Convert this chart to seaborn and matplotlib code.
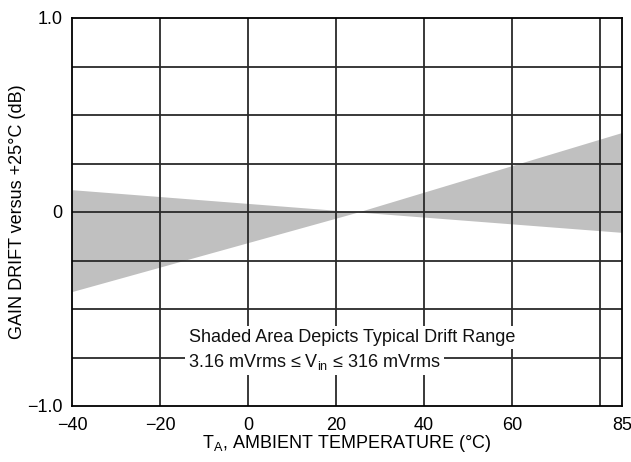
import matplotlib
matplotlib.use("Agg")
import matplotlib.pyplot as plt
import seaborn as sns
import pandas as pd

sns.set_theme(style="white")
plt.rcParams['font.family'] = ['Liberation Sans', 'DejaVu Sans']
plt.rcParams['mathtext.fontset'] = 'custom'
plt.rcParams['mathtext.rm'] = 'Liberation Sans'
plt.rcParams['mathtext.it'] = 'Liberation Sans'

# Data
temps = [-40, 25, 85]
upper_drift = [0.115, 0.0, 0.41]
lower_drift = [-0.41, 0.0, -0.105]
x_ticks = [-40, -20, 0, 20, 40, 60, 85]
x_ticklabels = ['\u221240', '\u221220', '0', '20', '40', '60', '85']
x_grid = [-20, 0, 20, 40, 60, 80]
y_ticks = [-1.0, 0.0, 1.0]
y_ticklabels = ['\u22121.0', '0', '1.0']
y_grid = [-0.75, -0.5, -0.25, 0.0, 0.25, 0.5, 0.75]
note_line1 = 'Shaded Area Depicts Typical Drift Range'
note_line2 = '3.16 mVrms \u2264 V$_{\\mathrm{in}}$ \u2264 316 mVrms'

df = pd.DataFrame({'temp': temps, 'upper': upper_drift, 'lower': lower_drift})

FS = 13
fig = plt.figure(figsize=(6.31, 4.62), dpi=100)
ax = fig.add_axes([72/631, 1-406/462, 550/631, 388/462])

sns.lineplot(data=df, x='temp', y='upper', ax=ax, color='#c0c0c0', linewidth=0)
sns.lineplot(data=df, x='temp', y='lower', ax=ax, color='#c0c0c0', linewidth=0)
ax.fill_between(df['temp'], df['lower'], df['upper'], color='#c0c0c0', linewidth=0, zorder=1)

for xv in x_grid:
    ax.axvline(xv, color='#2a2a2a', linewidth=1.3, zorder=3)
for yv in y_grid:
    ax.axhline(yv, color='#2a2a2a', linewidth=1.3, zorder=3)

ax.set_xlim(-40, 85)
ax.set_ylim(-1.0, 1.0)
ax.set_xticks(x_ticks)
ax.set_xticklabels(x_ticklabels, fontsize=FS)
ax.set_yticks(y_ticks)
ax.set_yticklabels(y_ticklabels, fontsize=FS)
ax.tick_params(axis='both', length=0, colors='black', labelcolor='black')
ax.tick_params(axis='x', pad=8)
ax.tick_params(axis='y', pad=7)
for s in ax.spines.values():
    s.set_color('black')
    s.set_linewidth(1.3)
    s.set_zorder(5)

ax.set_xlabel('T$_{\\mathrm{A}}$, AMBIENT TEMPERATURE (\u00b0C)', fontsize=FS, color='black')
ax.set_ylabel('GAIN DRIFT versus +25\u00b0C (dB)', fontsize=FS, color='black')
ax.xaxis.set_label_coords(0.5, -0.07)
ax.yaxis.set_label_coords(-0.084, 0.5)

ax.text(-13.4, -0.67, note_line1, fontsize=FS, color='#111111', ha='left', va='baseline',
        zorder=6, bbox=dict(facecolor='white', edgecolor='none', pad=2))
ax.text(-13.6, -0.80, note_line2, fontsize=FS, color='#111111', ha='left', va='baseline',
        zorder=7, bbox=dict(facecolor='white', edgecolor='none', pad=2))

fig.savefig('out.png', dpi=100)
